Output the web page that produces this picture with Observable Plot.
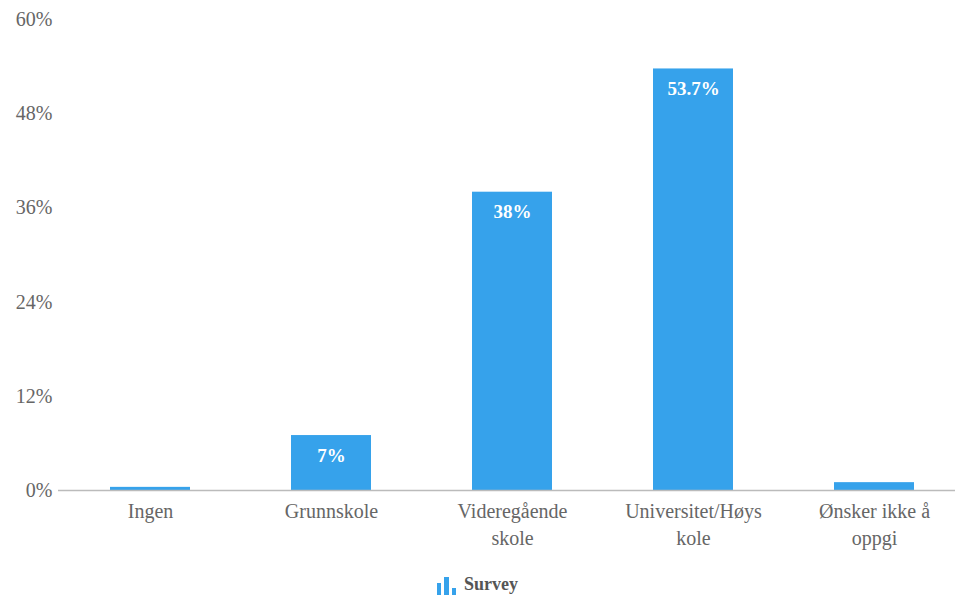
<!DOCTYPE html>
<html>
<head>
<meta charset="utf-8">
<script src="https://cdn.jsdelivr.net/npm/d3@7"></script>
<script src="https://cdn.jsdelivr.net/npm/@observablehq/plot@0.6"></script>
<style>
  html, body { margin: 0; padding: 0; background: #fff; }
  #legend { height: 33px; padding-top: 6px; display: flex; justify-content: center; align-items: center;
    font-family: "Liberation Serif", serif; font-weight: bold; font-size: 18px; color: #555; }
  #legend svg { margin-right: 7px; }
</style>
</head>
<body>
<div id="chart"></div>
<div id="legend"><svg width="20" height="20"><rect x="0" y="8" width="4" height="12" fill="#36a2eb"/><rect x="7" y="2" width="5" height="18" fill="#36a2eb"/><rect x="15" y="13" width="4" height="7" fill="#36a2eb"/></svg>Survey</div>
<script>
const categories = ["Ingen", "Grunnskole", "Videregående skole", "Universitet/Høyskole", "Ønsker ikke å oppgi"];
const tickLabels = ["Ingen", "Grunnskole", "Videregående\nskole", "Universitet/Høys\nkole", "Ønsker ikke å\noppgi"];
const values = [0.4, 7, 38, 53.7, 1.0];
const valueLabels = ["", "7%", "38%", "53.7%", ""];
const yTicks = [0, 12, 24, 36, 48, 60];

const data = categories.map((c, i) => ({cat: c, value: values[i], label: valueLabels[i]}));
const tickMap = new Map(categories.map((c, i) => [c, tickLabels[i]]));

const chart = Plot.plot({
  width: 955,
  height: 562,
  marginTop: 19,
  marginBottom: 72,
  marginLeft: 58,
  marginRight: 0,
  style: {fontFamily: "Liberation Serif, serif", fontSize: "20px", color: "#666", background: "#fff"},
  x: {domain: categories, range: [59, 964], paddingInner: 0.56, paddingOuter: 0.28, align: 0.5, label: null},
  y: {domain: [0, 60], ticks: yTicks, label: null},
  marks: [
    Plot.gridY(yTicks, {stroke: "#e6e6e6", strokeOpacity: 1, x1: 58, x2: 955}),
    Plot.barY(data, {x: "cat", y: "value", fill: "#36a2eb"}),
    Plot.ruleY([0], {stroke: "#bbb", strokeWidth: 1.5}),
    Plot.text(data, {x: "cat", y: "value", text: "label", dy: 20, fill: "white", fontWeight: "bold", fontSize: 19}),
    Plot.axisY({ticks: yTicks, tickFormat: d => d + "%", tickSize: 0, tickPadding: 6, fill: "#666", fontSize: 20}),
    Plot.axisX({tickFormat: d => tickMap.get(d), tickSize: 0, tickPadding: 8, fill: "#666", fontSize: 20, lineHeight: 1.35})
  ]
});
document.getElementById("chart").appendChild(chart);
</script>
</body>
</html>
